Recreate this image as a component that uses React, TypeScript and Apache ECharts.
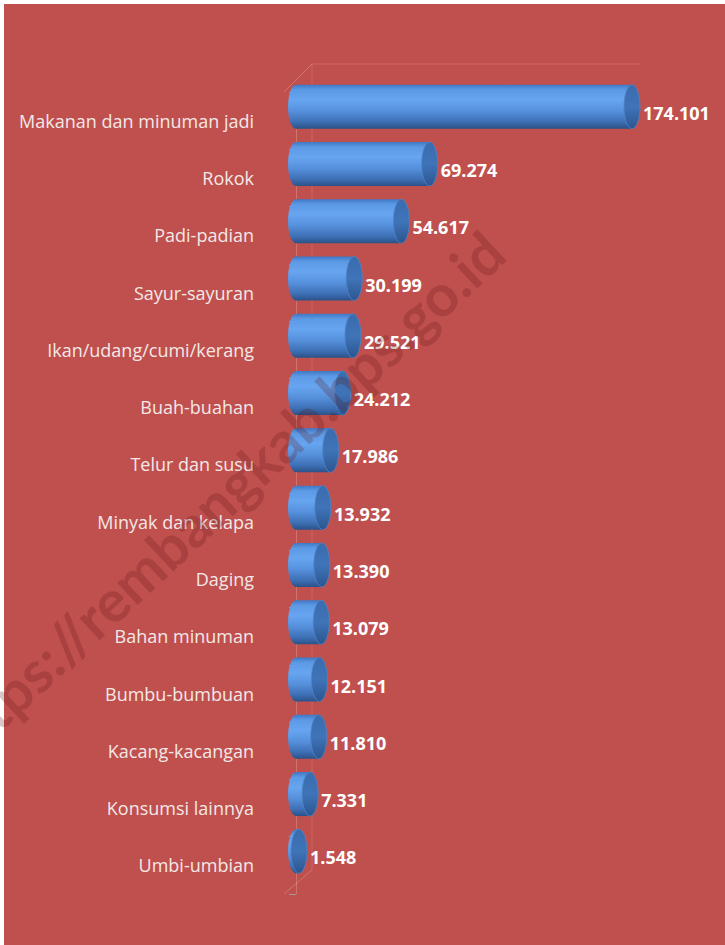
import React, { useEffect, useRef } from "react";
import * as echarts from "echarts";

const categories = [
  "Makanan dan minuman jadi",
  "Rokok",
  "Padi-padian",
  "Sayur-sayuran",
  "Ikan/udang/cumi/kerang",
  "Buah-buahan",
  "Telur dan susu",
  "Minyak dan kelapa",
  "Daging",
  "Bahan minuman",
  "Bumbu-bumbuan",
  "Kacang-kacangan",
  "Konsumsi lainnya",
  "Umbi-umbian",
];
const values = [174101, 69274, 54617, 30199, 29521, 24212, 17986, 13932, 13390, 13079, 12151, 11810, 7331, 1548];
const watermark = "https://rembangkab.bps.go.id";

const fmt = (v: number) => v.toLocaleString("de-DE");

export default function App() {
  const ref = useRef<HTMLDivElement>(null);
  useEffect(() => {
    const chart = echarts.init(ref.current!, null, { renderer: "svg" });
    const bodyGrad = new echarts.graphic.LinearGradient(0, 0, 0, 1, [
      { offset: 0, color: "#3f78c4" },
      { offset: 0.12, color: "#5d9ae6" },
      { offset: 0.35, color: "#67a5f0" },
      { offset: 0.6, color: "#5690dc" },
      { offset: 0.85, color: "#3d6fb4" },
      { offset: 1, color: "#2b5288" },
    ]);
    const capGrad = new echarts.graphic.LinearGradient(0, 0, 0, 1, [
      { offset: 0, color: "#3a6cae" },
      { offset: 0.5, color: "#3f74b8" },
      { offset: 1, color: "#2c5590" },
    ]);
    chart.setOption({
      animation: false,
      backgroundColor: "#ffffff",
      graphic: [
        { type: "rect", z: -10, shape: { x: 4, y: 4, width: 721, height: 941 }, style: { fill: "#c0504d" } },
        { type: "line", z: -5, shape: { x1: 284, y1: 92, x2: 312, y2: 64 }, style: { stroke: "rgba(240,180,170,0.35)", lineWidth: 1 } },
        { type: "line", z: -5, shape: { x1: 312, y1: 64, x2: 640, y2: 64 }, style: { stroke: "rgba(240,180,170,0.2)", lineWidth: 1 } },
        { type: "line", z: -5, shape: { x1: 312, y1: 64, x2: 312, y2: 870 }, style: { stroke: "rgba(240,180,170,0.2)", lineWidth: 1 } },
        { type: "line", z: -5, shape: { x1: 284, y1: 894, x2: 312, y2: 870 }, style: { stroke: "rgba(240,180,170,0.35)", lineWidth: 1 } },
        {
          type: "text",
          z: 100,
          x: 494,
          y: 242,
          rotation: 0.75,
          style: {
            text: watermark,
            fill: "rgba(90,20,20,0.24)",
            font: "bold 58px Lato",
            align: "right",
            verticalAlign: "middle",
          },
        },
      ],
      grid: { left: 296, right: 81.6, top: 92, bottom: 51 },
      xAxis: { type: "value", min: 0, max: 180000, show: false },
      yAxis: {
        type: "category",
        inverse: true,
        data: categories,
        offset: 12,
        axisLine: { show: true, lineStyle: { color: "rgba(240,180,170,0.35)" } },
        axisTick: { show: true, length: 7, lineStyle: { color: "#9a9a9a" } },
        axisLabel: { margin: 30, color: "#f3e8e8", fontSize: 18, fontFamily: "'Open Sans'" },
      },
      series: [
        {
          type: "custom",
          encode: { y: 0, x: 1 },
          data: values.map((v, i) => [i, v]),
          renderItem: (params: any, api: any) => {
            const idx = api.value(0);
            const v = api.value(1);
            const s = api.coord([0, idx]);
            const e = api.coord([v, idx]);
            const h = 44;
            const rx = 8;
            const cy = s[1] - 14;
            const x0 = s[0];
            const x1 = e[0];
            return {
              type: "group",
              children: [
                { type: "ellipse", shape: { cx: x0, cy, rx, ry: h / 2 }, style: { fill: bodyGrad } },
                { type: "rect", shape: { x: x0, y: cy - h / 2, width: Math.max(x1 - x0, 0.5), height: h }, style: { fill: bodyGrad } },
                { type: "ellipse", shape: { cx: x1, cy, rx, ry: h / 2 }, style: { fill: capGrad, stroke: "#4d84c8", lineWidth: 0.8 } },
                {
                  type: "text",
                  style: {
                    text: fmt(v),
                    x: x1 + rx + 3,
                    y: cy + 6,
                    verticalAlign: "middle",
                    fill: "#ffffff",
                    font: "bold 18px 'Open Sans'",
                  },
                },
              ],
            };
          },
        },
      ],
    });
    return () => chart.dispose();
  }, []);
  return <div ref={ref} style={{ position: "fixed", left: 0, top: 0, width: 725, height: 945 }} />;
}
